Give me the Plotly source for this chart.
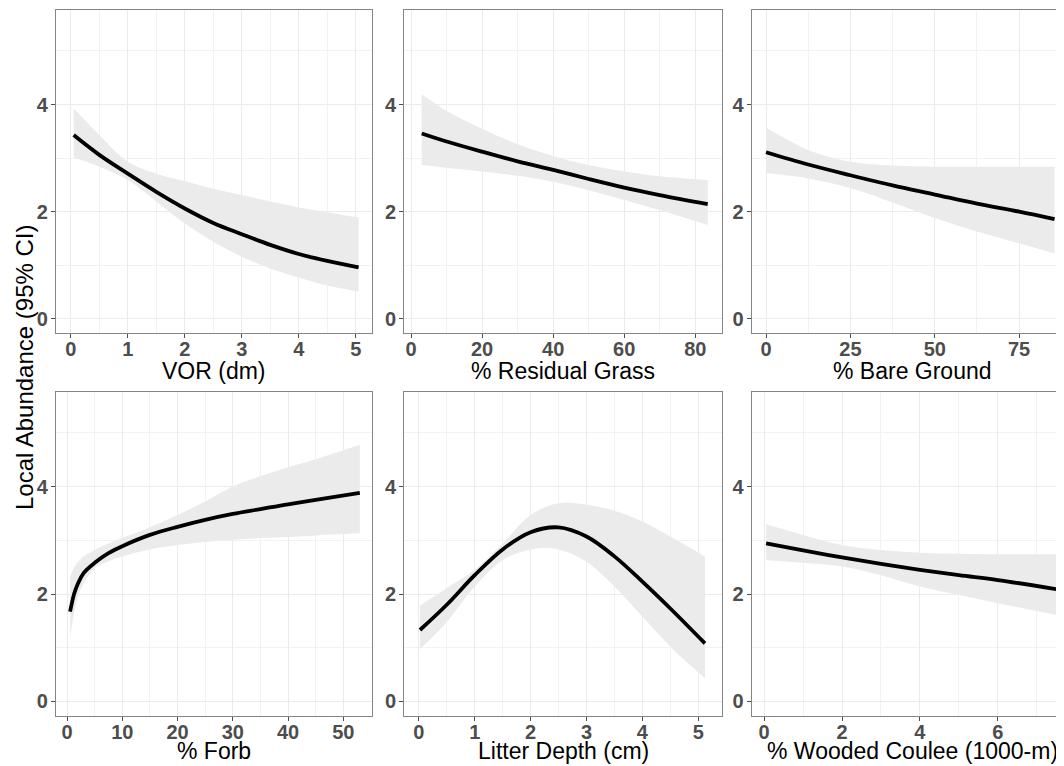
import plotly.graph_objects as go

# ---------------- data ----------------
vor_x   = [0.05, 0.5, 1, 1.5, 2, 2.5, 3, 3.5, 4, 4.5, 5.05]
vor_fit = [3.43, 3.06, 2.71, 2.37, 2.06, 1.79, 1.58, 1.38, 1.21, 1.08, 0.96]
vor_hi  = [3.93, 3.43, 2.93, 2.71, 2.57, 2.43, 2.31, 2.19, 2.08, 1.99, 1.89]
vor_lo  = [3.01, 2.84, 2.59, 2.19, 1.78, 1.44, 1.16, 0.94, 0.77, 0.62, 0.51]

grass_x   = [3, 10, 20, 30, 40, 50, 60, 70, 83.5]
grass_fit = [3.46, 3.31, 3.12, 2.94, 2.78, 2.61, 2.45, 2.31, 2.14]
grass_hi  = [4.19, 3.88, 3.55, 3.26, 3.04, 2.87, 2.75, 2.66, 2.59]
grass_lo  = [2.87, 2.82, 2.75, 2.67, 2.56, 2.40, 2.22, 2.03, 1.75]

bare_x   = [0, 12.5, 25, 37.5, 50, 62.5, 75, 85.5]
bare_fit = [3.11, 2.88, 2.68, 2.49, 2.32, 2.15, 2.00, 1.86]
bare_hi  = [3.57, 3.15, 2.93, 2.86, 2.84, 2.84, 2.84, 2.84]
bare_lo  = [2.72, 2.62, 2.44, 2.17, 1.88, 1.63, 1.41, 1.22]

forb_x   = [0.55, 1.3, 2, 3, 5, 7.5, 10, 15, 20, 25, 30, 35, 40, 45, 53]
forb_fit = [1.67, 2.01, 2.20, 2.39, 2.58, 2.76, 2.89, 3.10, 3.25, 3.38, 3.49, 3.58, 3.67, 3.75, 3.88]
forb_hi  = [2.32, 2.50, 2.60, 2.70, 2.82, 2.94, 3.04, 3.24, 3.47, 3.72, 4.00, 4.19, 4.36, 4.51, 4.78]
forb_lo  = [1.20, 1.65, 1.95, 2.20, 2.48, 2.61, 2.70, 2.83, 2.91, 2.97, 3.01, 3.04, 3.06, 3.09, 3.13]

litter_x   = [0.02, 0.5, 1, 1.5, 2, 2.5, 3.0, 3.5, 4, 4.5, 5.12]
litter_fit = [1.33, 1.80, 2.35, 2.83, 3.15, 3.24, 3.07, 2.70, 2.23, 1.73, 1.08]
litter_hi  = [1.78, 2.11, 2.45, 2.94, 3.47, 3.69, 3.66, 3.55, 3.35, 3.07, 2.70]
litter_lo  = [0.97, 1.48, 2.14, 2.63, 2.83, 2.83, 2.60, 2.14, 1.58, 1.02, 0.43]

wood_x   = [0.05, 1, 2, 3, 4, 5, 6, 7.5]
wood_fit = [2.94, 2.81, 2.68, 2.56, 2.45, 2.35, 2.26, 2.09]
wood_hi  = [3.30, 3.10, 2.91, 2.82, 2.77, 2.75, 2.74, 2.74]
wood_lo  = [2.63, 2.58, 2.51, 2.35, 2.14, 1.98, 1.83, 1.61]

x_titles = ["VOR (dm)", "% Residual Grass", "% Bare Ground",
            "% Forb", "Litter Depth (cm)", "% Wooded Coulee (1000-m)"]
y_title = "Local Abundance (95% CI)"
y_ticks = [0, 2, 4]

panels = [
    (vor_x, vor_fit, vor_lo, vor_hi),
    (grass_x, grass_fit, grass_lo, grass_hi),
    (bare_x, bare_fit, bare_lo, bare_hi),
    (forb_x, forb_fit, forb_lo, forb_hi),
    (litter_x, litter_fit, litter_lo, litter_hi),
    (wood_x, wood_fit, wood_lo, wood_hi),
]

# ---------------- layout geometry ----------------
OFF = 8  # the page body margin shifts the figure by 8 px
W, H = 1064 - OFF, 766 - OFF
def px_x(p):
    return (p - OFF) / W
def px_y(p):
    return 1 - (p - OFF) / H

col_px = [(56, 371.7), (404.3, 722.3), (751.7, 1064)]
row_px = [(10, 333), (391.7, 715.7)]
x_ranges = [(-0.26, 5.28), (-1.9, 87.6), (-4.24, 88.3),
            (-2.0, 55.15), (-0.26, 5.43), (-0.32, 7.7)]
x_dtick = [1, 20, 25, 10, 1, 2]
y_range = (-0.265, 5.765)

fig = go.Figure()
layout = dict(width=W, height=H, margin=dict(l=0, r=0, t=0, b=0),
              paper_bgcolor="white", plot_bgcolor="white", showlegend=False)

tickfont = dict(family="Liberation Sans", size=20, color="#4d4d4d", weight="bold")
annotations = []
title_x_center = [213.9, 563.3, 912]

for i, (xs, fit, lo, hi) in enumerate(panels):
    r, c = divmod(i, 3)
    n = "" if i == 0 else str(i + 1)
    xa, ya = "x" + n, "y" + n
    fig.add_trace(go.Scatter(x=xs, y=lo, mode="lines",
                             line=dict(width=0, color="rgba(0,0,0,0)", shape="spline", smoothing=1.0),
                             hoverinfo="skip", xaxis=xa, yaxis=ya))
    fig.add_trace(go.Scatter(x=xs, y=hi, mode="lines", fill="tonexty", fillcolor="#ebebeb",
                             line=dict(width=0, color="rgba(0,0,0,0)", shape="spline", smoothing=1.0),
                             hoverinfo="skip", xaxis=xa, yaxis=ya))
    fig.add_trace(go.Scatter(x=xs, y=fit, mode="lines",
                             line=dict(color="black", width=3.8, shape="spline", smoothing=1.0),
                             xaxis=xa, yaxis=ya))
    x0, x1 = col_px[c]
    y0, y1 = row_px[r]
    dt = x_dtick[i]
    layout["xaxis" + n] = dict(
        domain=[px_x(x0), min(1.0, px_x(x1))], anchor=ya, range=list(x_ranges[i]),
        dtick=dt, tick0=0, showgrid=True, gridcolor="#ebebeb", gridwidth=1,
        minor=dict(dtick=dt / 2, tick0=0, showgrid=True, gridcolor="#f2f2f2", gridwidth=0.8),
        zeroline=False, showline=True, linecolor="#858585", linewidth=1.3, mirror=True,
        ticks="outside", ticklen=4, tickcolor="#4d4d4d", tickfont=tickfont,
        ticklabelstandoff=-6, automargin=False)
    layout["yaxis" + n] = dict(
        domain=[px_y(y1), px_y(y0)], anchor=xa, range=list(y_range),
        tickvals=y_ticks, showgrid=True, gridcolor="#ebebeb", gridwidth=1,
        minor=dict(dtick=1, tick0=1, showgrid=True, gridcolor="#f2f2f2", gridwidth=0.8),
        zeroline=False, showline=True, linecolor="#858585", linewidth=1.3,
        mirror=(c != 2), ticks="outside", ticklen=4, tickcolor="#4d4d4d",
        tickfont=tickfont, ticklabelstandoff=-1, automargin=False)
    ty = 371 if r == 0 else 751
    annotations.append(dict(text=x_titles[i], xref="paper", yref="paper",
                            x=px_x(title_x_center[c]), y=px_y(ty),
                            xanchor="center", yanchor="middle", showarrow=False,
                            font=dict(family="Liberation Sans", size=23, color="black")))

annotations.append(dict(text=y_title, xref="paper", yref="paper",
                        x=px_x(24), y=px_y(367), textangle=-90,
                        xanchor="center", yanchor="middle", showarrow=False,
                        font=dict(family="Liberation Sans", size=24, color="black")))
layout["annotations"] = annotations
fig.update_layout(**layout)
fig.write_html("out.html")
